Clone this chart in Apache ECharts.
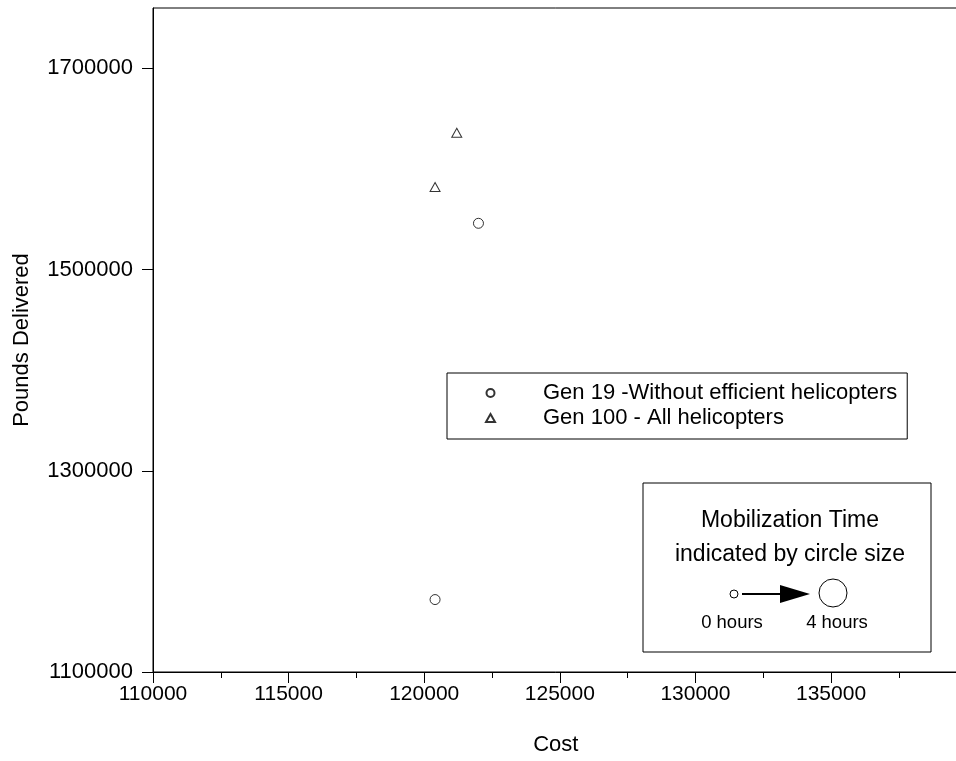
<!DOCTYPE html>
<html>
<head>
<meta charset="utf-8">
<script src="https://cdn.jsdelivr.net/npm/echarts@6/dist/echarts.min.js"></script>
<style>
  html, body { margin: 0; padding: 0; background: #fff; overflow: hidden; width: 956px; height: 761px; }
  #chart { width: 980px; height: 761px; }
</style>
</head>
<body>
<div id="chart"></div>
<script>
// Cost (x) and pounds delivered (y) for each generation
const seriesNames = ['Gen 19 -Without efficient helicopters', 'Gen 100 - All helicopters'];
const gen19Cost = [122000, 120400];
const gen19Pounds = [1546000, 1172000];
const gen100Cost = [121200, 120400];
const gen100Pounds = [1636000, 1582000];

const xAxisName = 'Cost';
const yAxisName = 'Pounds Delivered';
const noteLines = ['Mobilization Time', 'indicated by circle size'];
const noteLabels = ['0 hours', '4 hours'];

const FONT = '"Liberation Sans", Arial, Helvetica, sans-serif';

function pairs(xs, ys) { return xs.map((x, i) => [x, ys[i]]); }

const chart = echarts.init(document.getElementById('chart'), null, { renderer: 'canvas' });

const axisCommon = {
  axisLine: { show: true, lineStyle: { color: '#000', width: 1 } },
  splitLine: { show: false },
  nameTextStyle: { color: '#000', fontFamily: FONT, fontSize: 22 }
};

chart.setOption({
  backgroundColor: '#fff',
  animation: false,
  grid: { left: 153, top: 8, width: 805.5, height: 664, show: true, borderColor: '#000', borderWidth: 1, backgroundColor: 'transparent' },
  xAxis: Object.assign({}, axisCommon, {
    type: 'value', min: 110000, max: 139700, interval: 5000,
    name: xAxisName, nameLocation: 'middle', nameGap: 62,
    axisTick: { show: true, inside: false, length: 11, lineStyle: { color: '#000' } },
    minorTick: { show: true, splitNumber: 2, length: 6, lineStyle: { color: '#000' } },
    axisLabel: { color: '#000', fontFamily: FONT, fontSize: 21, margin: 12, showMaxLabel: false, formatter: v => String(v) }
  }),
  yAxis: Object.assign({}, axisCommon, {
    type: 'value', min: 1100000, max: 1760000, interval: 200000,
    name: yAxisName, nameLocation: 'middle', nameGap: 120, nameRotate: 90,
    axisTick: { show: true, inside: false, length: 11, lineStyle: { color: '#000' } },
    axisLabel: { color: '#000', fontFamily: FONT, fontSize: 22, margin: 20, showMaxLabel: false, formatter: v => String(v) }
  }),
  legend: {
    orient: 'vertical', left: 447, top: 373,
    padding: [9, 10, 10, 38], itemGap: 3,
    itemWidth: 9, itemHeight: 8,
    borderColor: '#000', borderWidth: 1, borderRadius: 0,
    textStyle: { color: '#000', fontFamily: FONT, fontSize: 22, lineHeight: 22, padding: [0, 0, 0, 43] },
    data: seriesNames
  },
  series: [
    {
      name: seriesNames[0], type: 'scatter', symbol: 'circle', symbolSize: 10,
      itemStyle: { color: '#fff', borderColor: '#000', borderWidth: 1 },
      data: pairs(gen19Cost, gen19Pounds)
    },
    {
      name: seriesNames[1], type: 'scatter', symbol: 'triangle', symbolSize: [10, 9],
      itemStyle: { color: '#fff', borderColor: '#000', borderWidth: 1 },
      data: pairs(gen100Cost, gen100Pounds)
    }
  ],
  graphic: [
    { type: 'rect', shape: { x: 643, y: 483, width: 288, height: 169 }, style: { fill: '#fff', stroke: '#000', lineWidth: 1 } },
    { type: 'text', x: 790, y: 521, style: { text: noteLines[0], fill: '#000', font: '23px ' + FONT, textAlign: 'center', textVerticalAlign: 'middle' } },
    { type: 'text', x: 790, y: 555, style: { text: noteLines[1], fill: '#000', font: '23px ' + FONT, textAlign: 'center', textVerticalAlign: 'middle' } },
    { type: 'circle', shape: { cx: 734, cy: 594, r: 4 }, style: { fill: '#fff', stroke: '#000', lineWidth: 1 } },
    { type: 'line', shape: { x1: 742, y1: 594, x2: 785, y2: 594 }, style: { stroke: '#000', lineWidth: 2 } },
    { type: 'polygon', shape: { points: [[780, 585], [810, 594], [780, 603]] }, style: { fill: '#000' } },
    { type: 'circle', shape: { cx: 833, cy: 593, r: 14 }, style: { fill: '#fff', stroke: '#000', lineWidth: 1 } },
    { type: 'text', x: 732, y: 623, style: { text: noteLabels[0], fill: '#000', font: '18.5px ' + FONT, textAlign: 'center', textVerticalAlign: 'middle' } },
    { type: 'text', x: 837, y: 623, style: { text: noteLabels[1], fill: '#000', font: '18.5px ' + FONT, textAlign: 'center', textVerticalAlign: 'middle' } }
  ]
});
</script>
</body>
</html>
